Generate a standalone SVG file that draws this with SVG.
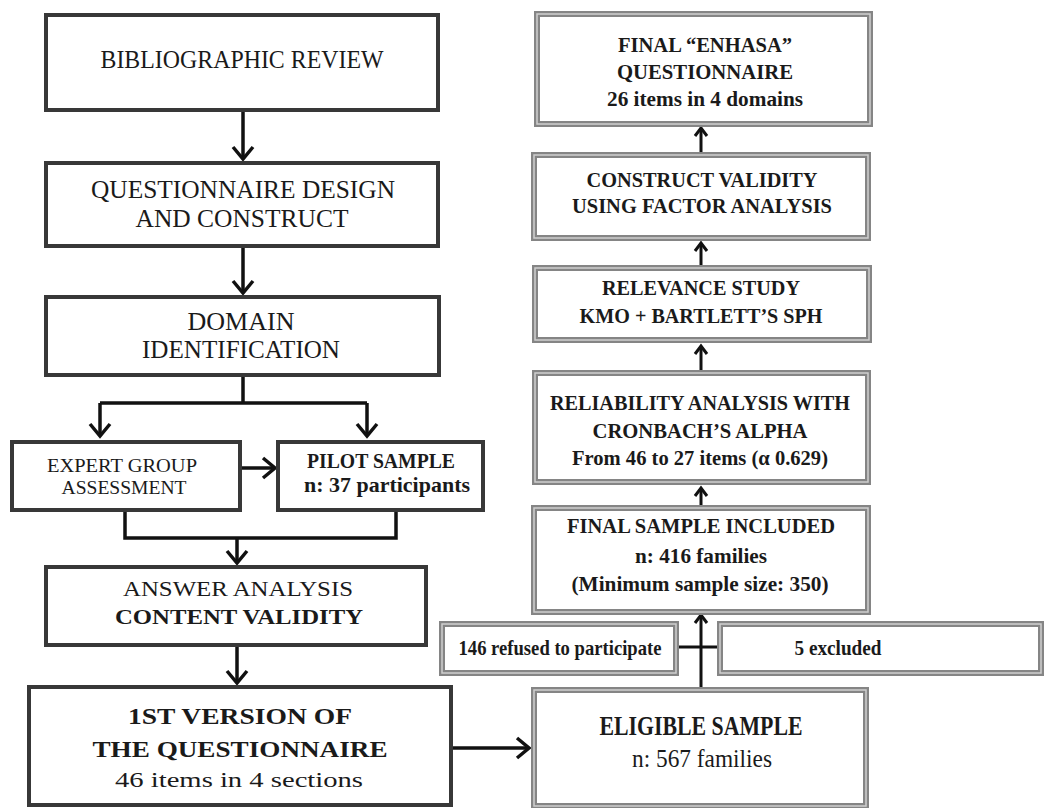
<svg xmlns="http://www.w3.org/2000/svg" width="1049" height="808" viewBox="0 0 1049 808">
<defs>
<style>
.lb{fill:#fff;stroke:#383838;stroke-width:4}
.rb{fill:#fff;stroke:#858585;stroke-width:6}
.ri{fill:none;stroke:#cfcfcf;stroke-width:1.5}
text{font-family:"Liberation Serif","Times New Roman",serif;fill:#1a1a1a;text-anchor:middle}
.b{font-weight:bold}
.cl{fill:none;stroke:#111;stroke-width:3.5}
.cr{fill:none;stroke:#111;stroke-width:3}
</style>
<marker id="ah" markerUnits="userSpaceOnUse" markerWidth="30" markerHeight="30" viewBox="-15 -15 30 30" refX="0" refY="0" orient="auto" overflow="visible">
<path d="M-12,-10 L0,0 L-12,10" fill="none" stroke="#111" stroke-width="3.5"/>
</marker>
<marker id="as" markerUnits="userSpaceOnUse" markerWidth="20" markerHeight="20" viewBox="-10 -10 20 20" refX="0" refY="0" orient="auto" overflow="visible">
<path d="M-8,-6 L0,0 L-8,6" fill="none" stroke="#111" stroke-width="3"/>
</marker>
</defs>
<rect width="1049" height="808" fill="#fff"/>

<g id="connectors">
<path class="cl" d="M243,110 V159" marker-end="url(#ah)"/>
<path class="cl" d="M243,246 V293" marker-end="url(#ah)"/>
<path class="cl" d="M243,375 V403 M100,403 H367"/>
<path class="cl" d="M100,403 V436" marker-end="url(#ah)"/>
<path class="cl" d="M367,403 V436" marker-end="url(#ah)"/>
<path class="cl" d="M240,468 H275" marker-end="url(#ah)"/>
<path class="cl" d="M125,510 V538 H396 V510"/>
<path class="cl" d="M237,538 V563" marker-end="url(#ah)"/>
<path class="cl" d="M237,645 V683" marker-end="url(#ah)"/>
<path class="cl" d="M453,748 H529" marker-end="url(#ah)"/>
<path class="cr" d="M701,688 V615" marker-end="url(#as)"/>
<path class="cr" d="M676,647 H719"/>
<path class="cr" d="M701,507 V488" marker-end="url(#as)"/>
<path class="cr" d="M701,372 V346" marker-end="url(#as)"/>
<path class="cr" d="M701,267 V243" marker-end="url(#as)"/>
<path class="cr" d="M701,153 V128" marker-end="url(#as)"/>
</g>

<g id="bibliographic">
<rect class="lb" x="46" y="15" width="392" height="95"/>
<text x="242" y="68" font-size="25" textLength="283" lengthAdjust="spacingAndGlyphs">BIBLIOGRAPHIC REVIEW</text>
</g>
<g id="design">
<rect class="lb" x="46" y="163" width="392" height="83"/>
<text x="243" y="198" font-size="25" textLength="304" lengthAdjust="spacingAndGlyphs">QUESTIONNAIRE DESIGN</text>
<text x="242" y="227" font-size="25" textLength="213" lengthAdjust="spacingAndGlyphs">AND CONSTRUCT</text>
</g>
<g id="domain">
<rect class="lb" x="46" y="297" width="393" height="78"/>
<text x="241" y="330" font-size="25" textLength="107" lengthAdjust="spacingAndGlyphs">DOMAIN</text>
<text x="241" y="358" font-size="25" textLength="198" lengthAdjust="spacingAndGlyphs">IDENTIFICATION</text>
</g>
<g id="expert">
<rect class="lb" x="12" y="442" width="228" height="68"/>
<text x="122" y="472" font-size="18" textLength="150" lengthAdjust="spacingAndGlyphs">EXPERT GROUP</text>
<text x="124" y="494" font-size="18" textLength="125" lengthAdjust="spacingAndGlyphs">ASSESSMENT</text>
</g>
<g id="pilot">
<rect class="lb" x="278" y="442" width="205" height="68"/>
<text class="b" x="381" y="468" font-size="21" textLength="148" lengthAdjust="spacingAndGlyphs">PILOT SAMPLE</text>
<text class="b" x="387" y="492" font-size="21" textLength="166" lengthAdjust="spacingAndGlyphs">n: 37 participants</text>
</g>
<g id="answer">
<rect class="lb" x="46" y="567" width="380" height="78"/>
<text x="238" y="596" font-size="22" textLength="230" lengthAdjust="spacingAndGlyphs">ANSWER ANALYSIS</text>
<text class="b" x="239" y="624" font-size="21" textLength="248" lengthAdjust="spacingAndGlyphs">CONTENT VALIDITY</text>
</g>
<g id="version1">
<rect class="lb" x="29" y="687" width="422" height="118"/>
<text class="b" x="240" y="724" font-size="24" textLength="224" lengthAdjust="spacingAndGlyphs">1ST VERSION OF</text>
<text class="b" x="240" y="757" font-size="24" textLength="295" lengthAdjust="spacingAndGlyphs">THE QUESTIONNAIRE</text>
<text x="239" y="787" font-size="22" textLength="248" lengthAdjust="spacingAndGlyphs">46 items in 4 sections</text>
</g>

<g id="final">
<rect class="rb" x="537" y="14" width="333" height="110"/>
<rect class="ri" x="537" y="14" width="333" height="110"/>
<text class="b" x="705" y="52" font-size="22" textLength="174" lengthAdjust="spacingAndGlyphs">FINAL “ENHASA”</text>
<text class="b" x="705" y="79" font-size="22" textLength="176" lengthAdjust="spacingAndGlyphs">QUESTIONNAIRE</text>
<text class="b" x="705" y="106" font-size="21" textLength="196" lengthAdjust="spacingAndGlyphs">26 items in 4 domains</text>
</g>
<g id="construct">
<rect class="rb" x="534" y="155" width="334" height="83"/>
<rect class="ri" x="534" y="155" width="334" height="83"/>
<text class="b" x="702" y="187" font-size="21" textLength="231" lengthAdjust="spacingAndGlyphs">CONSTRUCT VALIDITY</text>
<text class="b" x="702" y="213" font-size="21" textLength="260" lengthAdjust="spacingAndGlyphs">USING FACTOR ANALYSIS</text>
</g>
<g id="relevance">
<rect class="rb" x="535" y="268" width="334" height="72"/>
<rect class="ri" x="535" y="268" width="334" height="72"/>
<text class="b" x="701" y="295" font-size="22" textLength="198" lengthAdjust="spacingAndGlyphs">RELEVANCE STUDY</text>
<text class="b" x="701" y="323" font-size="22" textLength="243" lengthAdjust="spacingAndGlyphs">KMO + BARTLETT’S SPH</text>
</g>
<g id="reliability">
<rect class="rb" x="535" y="373" width="333" height="109"/>
<rect class="ri" x="535" y="373" width="333" height="109"/>
<text class="b" x="700" y="410" font-size="22" textLength="300" lengthAdjust="spacingAndGlyphs">RELIABILITY ANALYSIS WITH</text>
<text class="b" x="700" y="438" font-size="22" textLength="215" lengthAdjust="spacingAndGlyphs">CRONBACH’S ALPHA</text>
<text class="b" x="700" y="465" font-size="21" textLength="256" lengthAdjust="spacingAndGlyphs">From 46 to 27 items (α 0.629)</text>
</g>
<g id="finalsample">
<rect class="rb" x="534" y="508" width="334" height="104"/>
<rect class="ri" x="534" y="508" width="334" height="104"/>
<text class="b" x="701" y="533" font-size="22" textLength="268" lengthAdjust="spacingAndGlyphs">FINAL SAMPLE INCLUDED</text>
<text class="b" x="701" y="563" font-size="22" textLength="132" lengthAdjust="spacingAndGlyphs">n: 416 families</text>
<text class="b" x="700" y="591" font-size="22" textLength="257" lengthAdjust="spacingAndGlyphs">(Minimum sample size: 350)</text>
</g>
<g id="refused">
<rect class="rb" x="442" y="624" width="234" height="49"/>
<rect class="ri" x="442" y="624" width="234" height="49"/>
<text class="b" x="560" y="655" font-size="21" textLength="203" lengthAdjust="spacingAndGlyphs">146 refused to participate</text>
</g>
<g id="excluded">
<rect class="rb" x="720" y="624" width="321" height="49"/>
<rect class="ri" x="720" y="624" width="321" height="49"/>
<text class="b" x="838" y="655" font-size="21" textLength="87" lengthAdjust="spacingAndGlyphs">5 excluded</text>
</g>
<g id="eligible">
<rect class="rb" x="534" y="690" width="332" height="116"/>
<rect class="ri" x="534" y="690" width="332" height="116"/>
<text class="b" x="701" y="735" font-size="27" textLength="203" lengthAdjust="spacingAndGlyphs">ELIGIBLE SAMPLE</text>
<text x="702" y="767" font-size="25" textLength="140" lengthAdjust="spacingAndGlyphs">n: 567 families</text>
</g>
</svg>
